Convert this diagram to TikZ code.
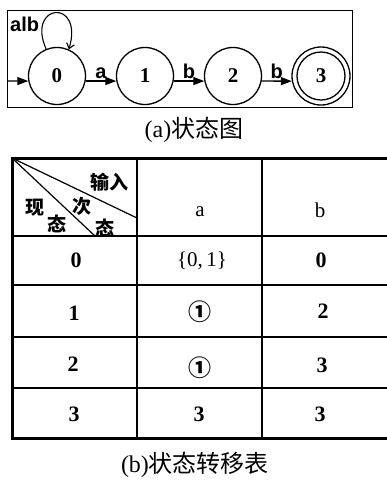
\documentclass[tikz,border=0pt]{standalone}
\usepackage{fontspec}
\setmainfont{Liberation Serif}
\newfontfamily\cjk{Noto Sans CJK SC}
\newfontfamily\labelfont{Liberation Sans}
\usetikzlibrary{arrows.meta}
\tikzset{
  state/.style={circle,draw,line width=1.3pt,minimum size=57pt,inner sep=0pt,
    font=\fontsize{21}{21}\selectfont\bfseries},
  trans/.style={line width=1.3pt,-{Triangle[length=11pt,width=8pt]}},
  edgelbl/.style={font=\labelfont\fontsize{20}{20}\selectfont\bfseries,inner sep=1pt},
  grid/.style={line width=1.3pt},
  outer/.style={line width=3pt},
  cell/.style={font=\fontsize{22}{22}\selectfont\bfseries},
  hdr/.style={font=\cjk\fontsize{19}{19}\selectfont\bfseries,inner sep=0pt},
  circ/.style={font=\cjk\fontsize{23}{23}\selectfont\bfseries},
  caption/.style={font=\fontsize{24}{24}\selectfont}
}
\begin{document}
\begin{tikzpicture}[x=1pt,y=-1pt]
\useasboundingbox (0,0) rectangle (387,483);
\clip (0,0) rectangle (387,483);

% frame of the automaton
\draw[line width=0.9pt] (7,10) rectangle (352,107);

% states
\node[state] (s0) at (57,76) {0};
\node[state] (s1) at (145,76) {1};
\node[state] (s2) at (233,76) {2};
\node[state,minimum size=58pt] (s3) at (321,76) {3};
\draw[line width=1.3pt] (s3.center) circle (24);

% transitions
\coordinate (start) at (7,81);
\draw[trans] (start) -- (s0.190);
\draw[trans] (s0.-10) -- node[edgelbl,above=1pt] {a} (s1.190);
\draw[trans] (s1.-10) -- node[edgelbl,above=1pt] {b} (s2.190);
\draw[trans] (s2.-10) -- node[edgelbl,above=1pt] {b} (s3.190);
\draw[line width=1.1pt,-{Straight Barb[length=5pt,width=8pt]}] (s0.112) .. controls (26,3) and (84,-2) .. (s0.66);
\node[edgelbl,anchor=west] (loop) at (9,24) {alb};

\node[caption] (capa) at (194,130) {(a){\cjk 状态图}};

% transition table
\draw[grid] (137,158) -- (137,438);
\draw[grid] (262,158) -- (262,438);
\draw[grid] (12,236) -- (400,236);
\draw[grid] (12,285) -- (400,285);
\draw[grid] (12,337) -- (400,337);
\draw[grid] (12,388) -- (400,388);
\draw[outer] (12,158) -- (400,158);
\draw[outer] (12,438) -- (400,438);
\draw[outer] (12,156.5) -- (12,439.5);

% header cell with diagonals
\draw[line width=1.2pt] (12,158) -- (137,218);
\draw[line width=1.2pt] (12,158) -- (95,236);
\node[hdr] (hin) at (109,182) {输入};
\node[hdr] (hnow) at (35,208) {现};
\node[hdr] (hnowb) at (57,224) {态};
\node[hdr] (hnext) at (82,206) {次};
\node[hdr] (hnextb) at (105,228) {态};

\node[cell,font=\fontsize{21}{21}\selectfont] (ca) at (200,212) {a};
\node[cell,font=\fontsize{21}{21}\selectfont] (cb) at (320,210) {b};

\node[cell] (r0) at (76,260) {0};
\node[cell,font=\fontsize{21}{21}\selectfont] (r0a) at (202,261) {\{0,\,1\}};
\node[cell] (r0b) at (321,260) {0};

\node[cell] (r1) at (74,313) {1};
\node[circ] (r1a) at (200,312) {①};
\node[cell] (r1b) at (323,311) {2};

\node[cell] (r2) at (73,364) {2};
\node[circ] (r2a) at (200,368) {①};
\node[cell] (r2b) at (322,365) {3};

\node[cell] (r3) at (74,414) {3};
\node[cell] (r3a) at (199,414) {3};
\node[cell] (r3b) at (320,414) {3};

\node[caption] (capb) at (195,465) {(b){\cjk 状态转移表}};
\end{tikzpicture}
\end{document}
